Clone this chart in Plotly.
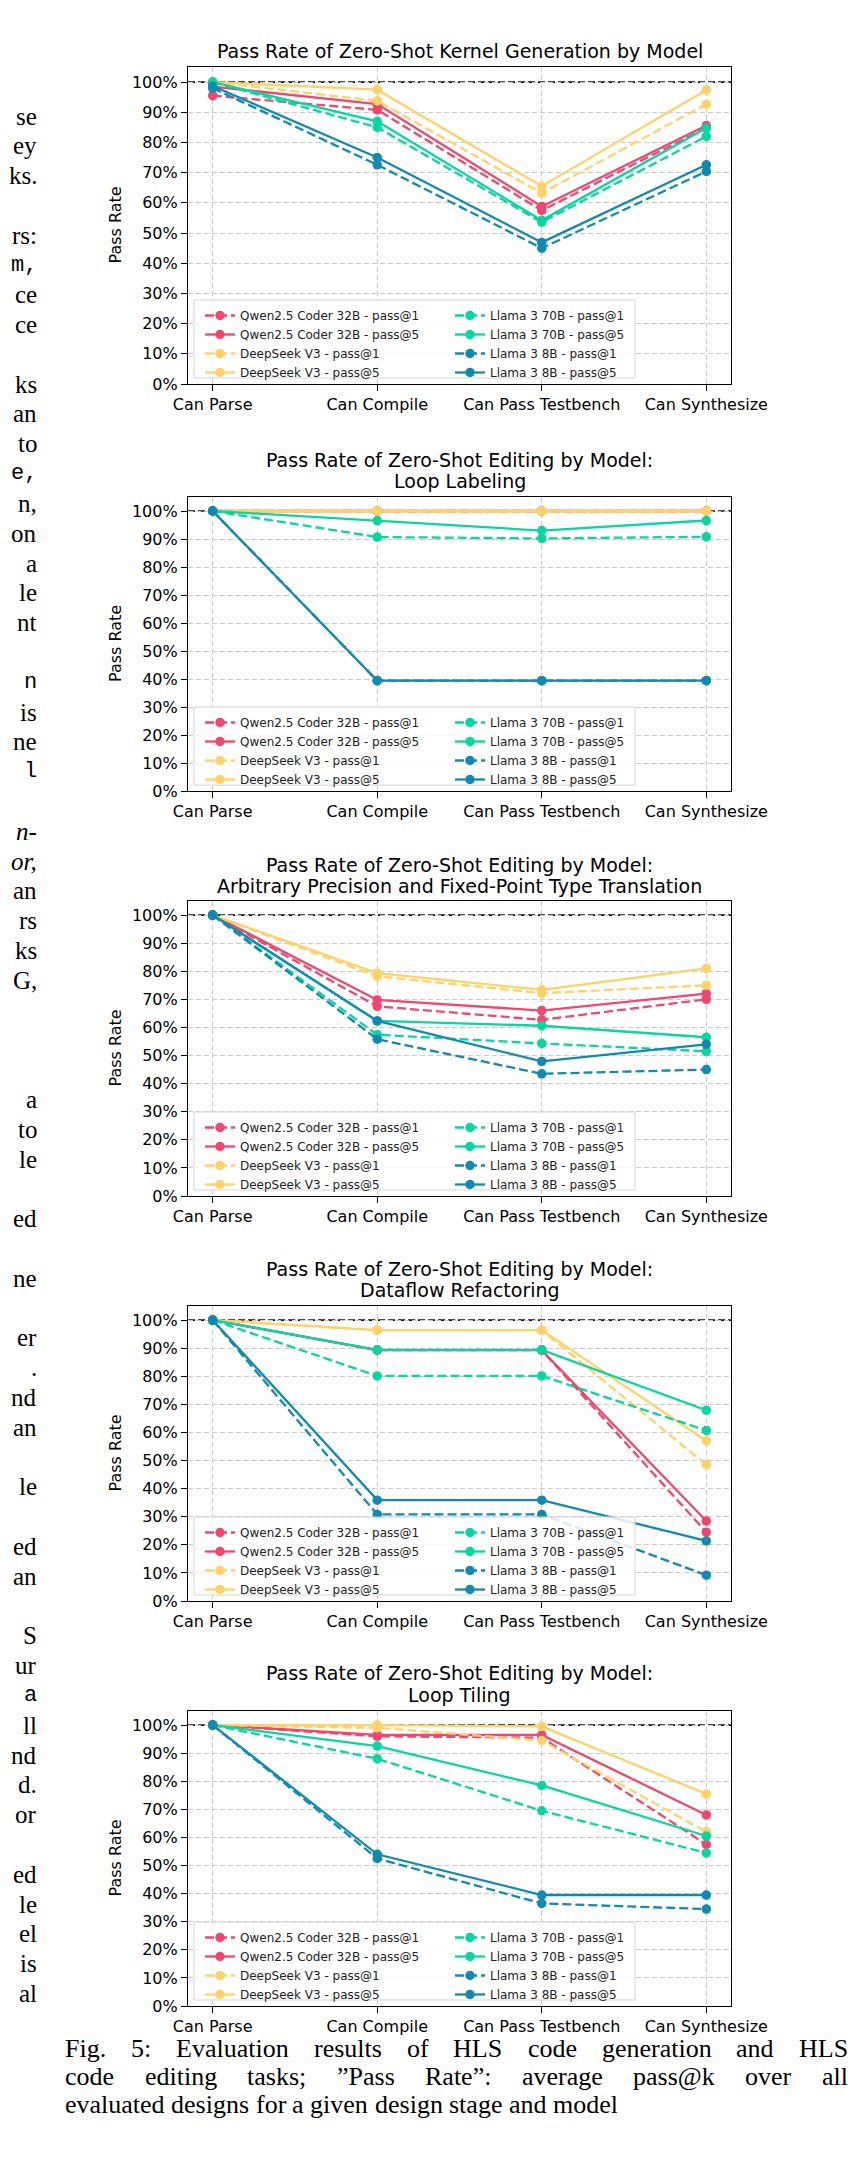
import plotly.graph_objects as go

W, H = 860, 2175
FONT = "DejaVu Sans"

# ---------------- data ----------------
categories = ["Can Parse", "Can Compile", "Can Pass Testbench", "Can Synthesize"]
y_tick_values = [0, 10, 20, 30, 40, 50, 60, 70, 80, 90, 100]
y_tick_text = ["0%", "10%", "20%", "30%", "40%", "50%", "60%", "70%", "80%", "90%", "100%"]
model_labels = ["Qwen2.5 Coder 32B", "DeepSeek V3", "Llama 3 70B", "Llama 3 8B"]
k_labels = ["pass@1", "pass@5"]
model_colors = ["#EF476F", "#FFD166", "#06D6A0", "#118AB2"]

# Kernel generation
kernel_qwen_p1 = [95.5, 90.8, 57.5, 84.8]
kernel_qwen_p5 = [98.5, 92.7, 58.8, 85.6]
kernel_ds_p1 = [100.0, 93.8, 63.2, 92.7]
kernel_ds_p5 = [100.0, 97.5, 65.5, 97.4]
kernel_l70_p1 = [100.0, 85.0, 53.6, 82.0]
kernel_l70_p5 = [100.0, 87.0, 54.2, 84.8]
kernel_l8_p1 = [98.0, 72.6, 45.0, 70.4]
kernel_l8_p5 = [98.7, 75.0, 46.9, 72.6]

# Loop labeling
loop_qwen_p1 = [100.0, 100.0, 100.0, 100.0]
loop_qwen_p5 = [100.0, 100.0, 100.0, 100.0]
loop_ds_p1 = [100.0, 100.0, 100.0, 100.0]
loop_ds_p5 = [100.0, 100.0, 100.0, 100.0]
loop_l70_p1 = [100.0, 90.7, 90.2, 90.8]
loop_l70_p5 = [100.0, 96.6, 93.0, 96.6]
loop_l8_p1 = [100.0, 39.4, 39.4, 39.4]
loop_l8_p5 = [100.0, 39.4, 39.4, 39.4]

# Arbitrary precision / fixed point
ap_qwen_p1 = [100.0, 67.5, 62.7, 70.0]
ap_qwen_p5 = [100.0, 69.8, 66.0, 72.0]
ap_ds_p1 = [100.0, 78.2, 72.2, 75.0]
ap_ds_p5 = [100.0, 79.3, 73.4, 81.0]
ap_l70_p1 = [100.0, 57.4, 54.3, 51.5]
ap_l70_p5 = [100.0, 62.3, 60.6, 56.5]
ap_l8_p1 = [100.0, 55.8, 43.5, 45.0]
ap_l8_p5 = [100.0, 62.3, 47.9, 54.0]

# Dataflow refactoring
df_qwen_p1 = [100.0, 89.3, 89.3, 24.5]
df_qwen_p5 = [100.0, 89.3, 89.3, 28.5]
df_ds_p1 = [100.0, 96.4, 96.4, 48.5]
df_ds_p5 = [100.0, 96.4, 96.4, 57.0]
df_l70_p1 = [100.0, 80.1, 80.1, 60.7]
df_l70_p5 = [100.0, 89.4, 89.4, 67.9]
df_l8_p1 = [100.0, 30.8, 30.8, 9.2]
df_l8_p5 = [100.0, 35.9, 35.9, 21.4]

# Loop tiling
lt_qwen_p1 = [100.0, 96.0, 95.5, 57.5]
lt_qwen_p5 = [100.0, 96.5, 96.5, 68.0]
lt_ds_p1 = [100.0, 99.0, 94.5, 62.0]
lt_ds_p5 = [100.0, 100.0, 99.5, 75.5]
lt_l70_p1 = [100.0, 88.0, 69.5, 54.5]
lt_l70_p5 = [100.0, 92.5, 78.5, 60.5]
lt_l8_p1 = [100.0, 52.5, 36.5, 34.5]
lt_l8_p5 = [100.0, 54.0, 39.5, 39.5]

panel_titles = [
    ["Pass Rate of Zero-Shot Kernel Generation by Model"],
    ["Pass Rate of Zero-Shot Editing by Model:", "Loop Labeling"],
    ["Pass Rate of Zero-Shot Editing by Model:", "Arbitrary Precision and Fixed-Point Type Translation"],
    ["Pass Rate of Zero-Shot Editing by Model:", "Dataflow Refactoring"],
    ["Pass Rate of Zero-Shot Editing by Model:", "Loop Tiling"],
]
panel_data = [
    [[kernel_qwen_p1, kernel_qwen_p5], [kernel_ds_p1, kernel_ds_p5],
     [kernel_l70_p1, kernel_l70_p5], [kernel_l8_p1, kernel_l8_p5]],
    [[loop_qwen_p1, loop_qwen_p5], [loop_ds_p1, loop_ds_p5],
     [loop_l70_p1, loop_l70_p5], [loop_l8_p1, loop_l8_p5]],
    [[ap_qwen_p1, ap_qwen_p5], [ap_ds_p1, ap_ds_p5],
     [ap_l70_p1, ap_l70_p5], [ap_l8_p1, ap_l8_p5]],
    [[df_qwen_p1, df_qwen_p5], [df_ds_p1, df_ds_p5],
     [df_l70_p1, df_l70_p5], [df_l8_p1, df_l8_p5]],
    [[lt_qwen_p1, lt_qwen_p5], [lt_ds_p1, lt_ds_p5],
     [lt_l70_p1, lt_l70_p5], [lt_l8_p1, lt_l8_p5]],
]

caption_lines = [
    "Fig. 5: Evaluation results of HLS code generation and HLS",
    "code editing tasks; \u201dPass Rate\u201d: average pass@k over all",
    "evaluated designs for a given design stage and model",
]

side_fragments = [
    ("se", "s"), ("ey", "s"), ("ks.", "s"), ("", ""), ("rs:", "s"), ("m,", "m"), ("ce", "s"), ("ce", "s"),
    ("", ""), ("ks", "s"), ("an", "s"), ("to", "s"), ("e,", "m"), ("n,", "s"), ("on", "s"), ("a", "s"),
    ("le", "s"), ("nt", "s"), ("", ""), ("n", "m"), ("is", "s"), ("ne", "s"), ("l", "m"), ("", ""),
    ("n-", "i"), ("or,", "i"), ("an", "s"), ("rs", "s"), ("ks", "s"), ("G,", "s"), ("", ""), ("", ""),
    ("", ""), ("a", "s"), ("to", "s"), ("le", "s"), ("", ""), ("ed", "s"), ("", ""), ("ne", "s"),
    ("", ""), ("er", "s"), (".", "s"), ("nd", "s"), ("an", "s"), ("", ""), ("le", "s"), ("", ""),
    ("ed", "s"), ("an", "s"), ("", ""), ("S", "s"), ("ur", "s"), ("a", "m"), ("ll", "s"), ("nd", "s"),
    ("d.", "s"), ("or", "s"), ("", ""), ("ed", "s"), ("le", "s"), ("el", "s"), ("is", "s"), ("al", "s"),
]

# ---------------- layout geometry (pixels) ----------------
AX_L, AX_R = 180, 723
panel_tops = [59, 489, 893, 1298, 1703]
panel_bottoms = [376, 783, 1188, 1593, 1998]
title_y = [[43], [451.7, 472.7], [856.7, 877.7], [1260.7, 1282.3], [1665.5, 1687]]


def fx(px):
    return px / W


def fy(py):
    return 1 - py / H


fig = go.Figure()
layout = dict(
    width=W, height=H, autosize=False,
    margin=dict(l=0, r=0, t=0, b=0),
    paper_bgcolor="white", plot_bgcolor="rgba(0,0,0,0)",
    font=dict(family=FONT, size=16, color="black"),
)
shapes = []
annotations = []

for p in range(5):
    sfx = "" if p == 0 else str(p + 1)
    xa, ya = "x" + sfx, "y" + sfx
    top, bot = panel_tops[p], panel_bottoms[p]
    axis_common = dict(
        showgrid=True, gridcolor="#cbcbcb", gridwidth=1, griddash="5px,3px",
        showline=True, linecolor="black", linewidth=1.2, mirror=True,
        ticks="outside", ticklen=6, tickwidth=1.2, tickcolor="black",
        tickfont=dict(family=FONT, size=16, color="black"),
        zeroline=False, automargin=False, fixedrange=True,
    )
    layout["xaxis" + sfx] = dict(
        axis_common, type="category", domain=[fx(AX_L), fx(AX_R)], anchor=ya,
        range=[-0.15, 3.15], categoryorder="array", categoryarray=categories,
    )
    layout["yaxis" + sfx] = dict(
        axis_common, domain=[fy(bot), fy(top)], anchor=xa,
        range=[0, 105], tickmode="array", tickvals=y_tick_values, ticktext=y_tick_text,
    )

    leg_names = []
    for c in range(2):
        idx = 2 * p + c + 1
        name = "legend" if idx == 1 else "legend%d" % idx
        leg_names.append(name)
        layout[name] = dict(
            x=fx(192 if c == 0 else 442), y=fy(bot - 83), xanchor="left", yanchor="top",
            orientation="v", bgcolor="rgba(0,0,0,0)", borderwidth=0,
            font=dict(family=FONT, size=12, color="#222222"),
            tracegroupgap=0, traceorder="normal", itemclick=False, itemdoubleclick=False,
        )

    for m in range(4):
        for k in range(2):
            fig.add_trace(go.Scatter(
                x=categories, y=panel_data[p][m][k],
                xaxis=xa, yaxis=ya,
                mode="lines+markers",
                name="%s - %s" % (model_labels[m], k_labels[k]),
                line=dict(color=model_colors[m], width=2.3,
                          dash="9px,4px" if k == 0 else "solid"),
                marker=dict(color=model_colors[m], size=9.5, symbol="circle"),
                legend=leg_names[m // 2],
                hoverinfo="skip",
            ))

    # 100% reference line (drawn beneath the series)
    shapes.append(dict(
        type="line", xref="paper", yref=ya, x0=fx(AX_L), x1=fx(AX_R), y0=100, y1=100,
        line=dict(color="#111111", width=1.7, dash="7px,3px"), layer="below",
    ))
    # legend frame
    shapes.append(dict(
        type="rect", xref="paper", yref="paper",
        x0=fx(186), x1=fx(627), y0=fy(bot - 6), y1=fy(bot - 84),
        line=dict(color="#d4d4d4", width=1), fillcolor="rgba(255,255,255,0.82)",
        layer="above",
    ))
    # titles
    for line, ty in zip(panel_titles[p], title_y[p]):
        annotations.append(dict(
            text=line, x=fx((AX_L + AX_R) / 2), y=fy(ty), xref="paper", yref="paper",
            xanchor="center", yanchor="middle", showarrow=False,
            font=dict(family=FONT, size=19, color="black"),
        ))
    # y-axis label
    annotations.append(dict(
        text="Pass Rate", x=fx(107), y=fy((top + bot) / 2), xref="paper", yref="paper",
        xanchor="center", yanchor="middle", textangle=-90, showarrow=False,
        font=dict(family=FONT, size=16, color="black"),
    ))

# ---------------- caption (justified, Times metrics) ----------------
TIMES = {' ': 250, '.': 250, ',': 250, ':': 278, ';': 278, '@': 921, '\u201d': 444, '"': 408,
         '5': 500, 'a': 444, 'b': 500, 'c': 444, 'd': 500, 'e': 444, 'f': 333, 'g': 500,
         'h': 500, 'i': 278, 'k': 500, 'l': 278, 'm': 778, 'n': 500, 'o': 500, 'p': 500,
         'r': 333, 's': 389, 't': 278, 'u': 500, 'v': 500, 'w': 722, 'y': 500,
         'E': 611, 'F': 556, 'H': 722, 'L': 611, 'P': 556, 'R': 667, 'S': 556}
CAP_SIZE = 26
CAP_L, CAP_R = 55, 838
cap_y = [2040, 2068, 2096]


def tw(s):
    return sum(TIMES.get(ch, 500) for ch in s) * CAP_SIZE / 1000.0


for li, line in enumerate(caption_lines):
    words = line.split(" ")
    if li < len(caption_lines) - 1:
        gap = (CAP_R - CAP_L - sum(tw(w_) for w_ in words)) / (len(words) - 1)
    else:
        gap = tw(" ")
    xpos = CAP_L
    for w_ in words:
        annotations.append(dict(
            text=w_, x=fx(xpos), y=fy(cap_y[li]), xref="paper", yref="paper",
            xanchor="left", yanchor="middle", showarrow=False,
            font=dict(family="Liberation Serif", size=CAP_SIZE, color="black"),
        ))
        xpos += tw(w_) + gap

# ---------------- cut-off left column text ----------------
FRAG_Y0, FRAG_DY = 108, 29.8
for i, (txt, style) in enumerate(side_fragments):
    if not txt:
        continue
    fam = "Liberation Mono" if style == "m" else "Liberation Serif"
    size = 22 if style == "m" else 25
    t = "<i>%s</i>" % txt if style == "i" else txt
    annotations.append(dict(
        text=t, x=fx(31), y=fy(FRAG_Y0 + i * FRAG_DY), xref="paper", yref="paper",
        xanchor="right", yanchor="middle", showarrow=False,
        font=dict(family=fam, size=size, color="black"),
    ))

layout["shapes"] = shapes
layout["annotations"] = annotations
fig.update_layout(**layout)
fig.write_html("out.html")
